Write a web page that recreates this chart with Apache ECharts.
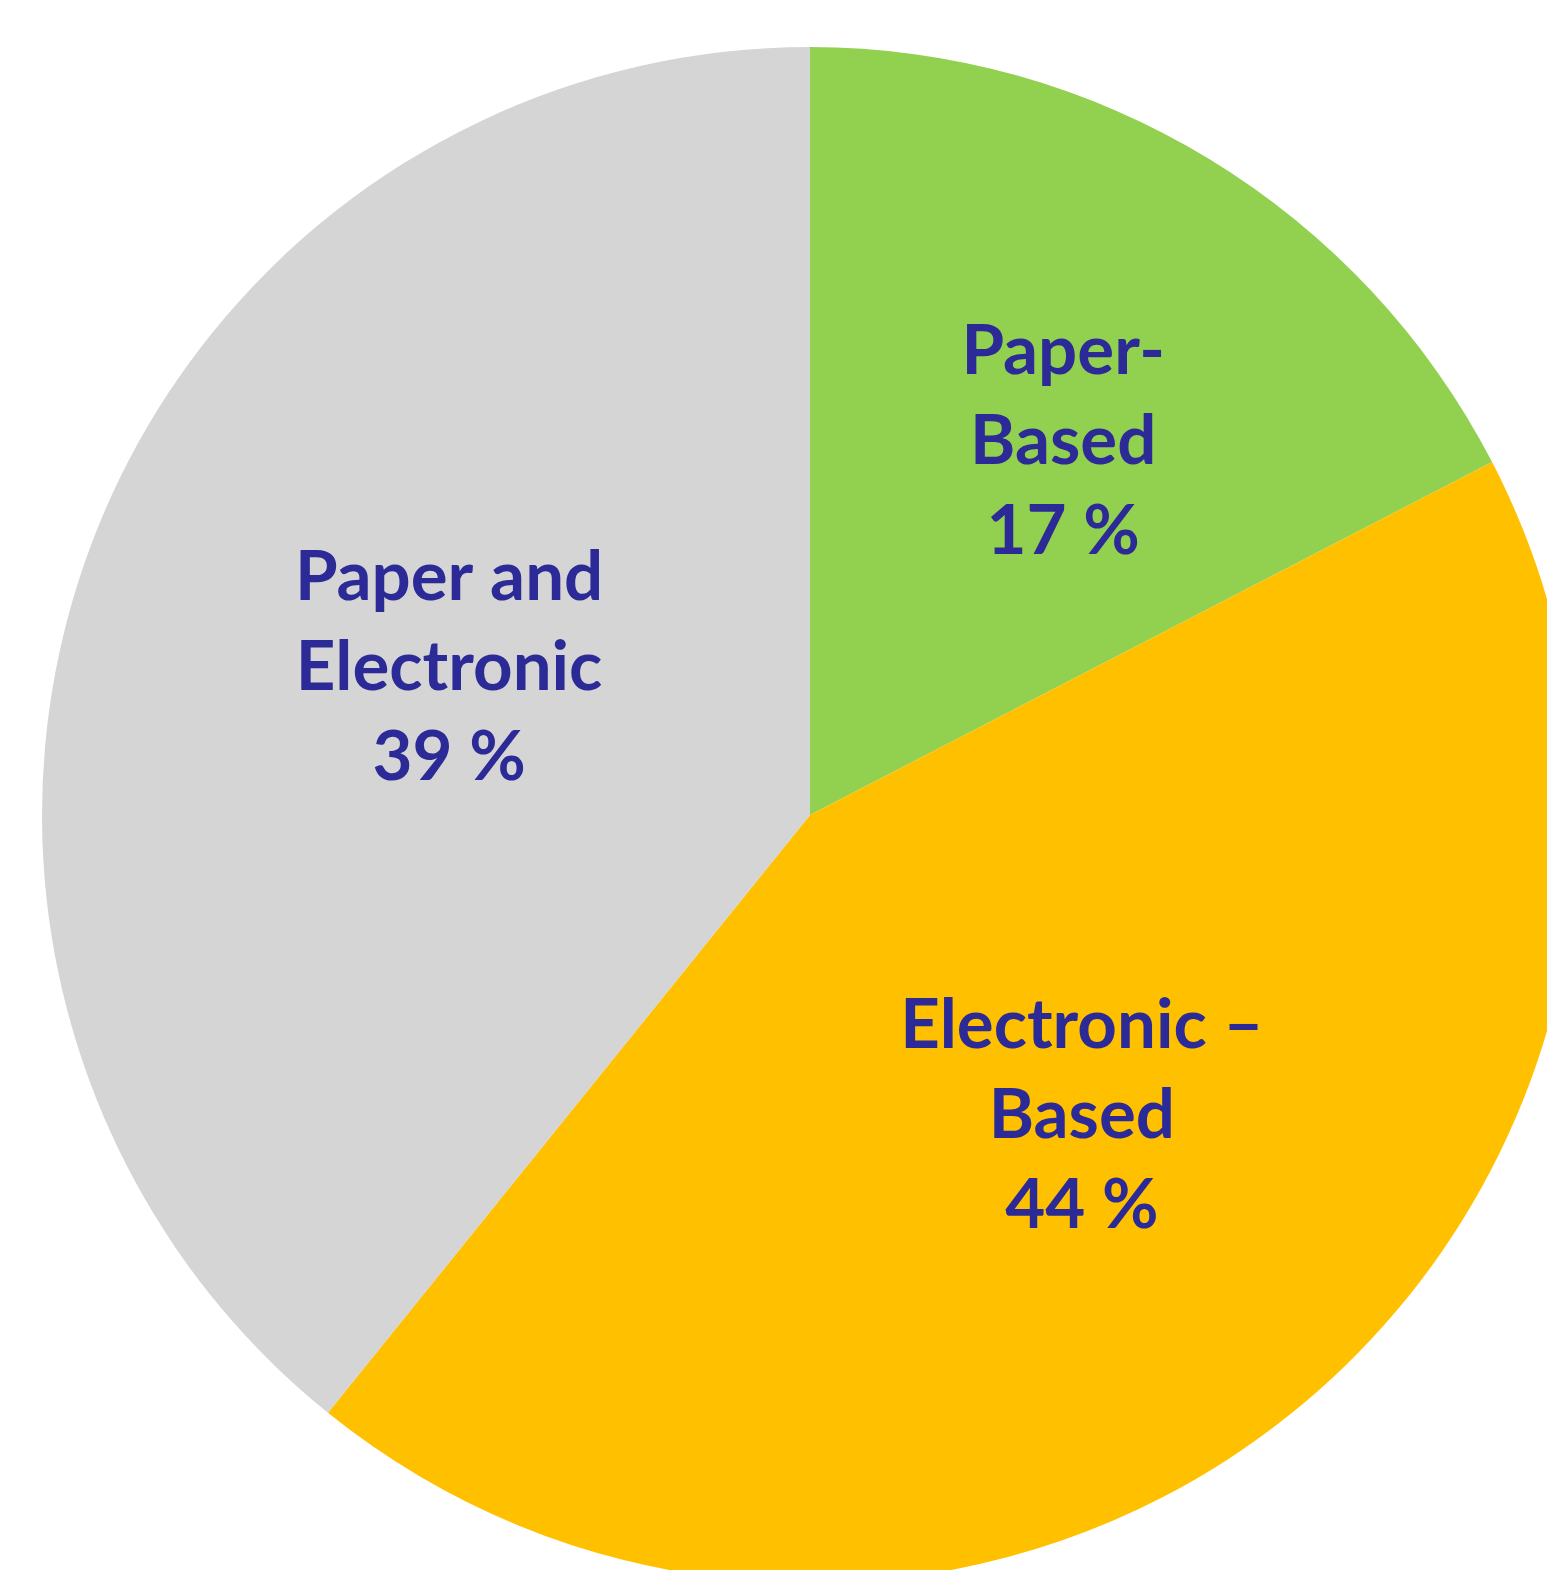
<!DOCTYPE html>
<html>
<head>
<meta charset="utf-8">
<script src="https://cdn.jsdelivr.net/npm/echarts@6/dist/echarts.min.js"></script>
<style>
  html, body { margin: 0; padding: 0; background: #ffffff; }
  #chart { width: 1547px; height: 1570px; }
</style>
</head>
<body>
<div id="chart"></div>
<script>
// slice names (line breaks as in the picture)
const categories = ['Paper-\nBased', 'Electronic –\nBased', 'Paper and\nElectronic'];
const values = [17.4, 43.4, 39.2];
const percentLabels = ['17 %', '44 %', '39 %'];

const colors = ['#92D050', '#FFC000', '#D5D5D5'];
// nudges so the labels sit where the original put them
const labelOffsets = [[52, -43], [27, 1], [4, -18]];

const chart = echarts.init(document.getElementById('chart'));

const option = {
  backgroundColor: '#ffffff',
  animation: false,
  series: [
    {
      type: 'pie',
      center: [810, 815],
      radius: [0, 768],
      startAngle: 90,
      clockwise: true,
      avoidLabelOverlap: false,
      emphasis: { disabled: true },
      labelLine: { show: false },
      label: {
        show: true,
        position: 'inside',
        color: '#2B2A96',
        fontFamily: 'Lato',
        fontWeight: 'bold',
        fontSize: 69,
        lineHeight: 90,
        align: 'center',
        formatter: p => categories[p.dataIndex] + '\n' + percentLabels[p.dataIndex]
      },
      data: categories.map((name, i) => ({
        name: name,
        value: values[i],
        itemStyle: { color: colors[i], borderWidth: 0 },
        label: { offset: labelOffsets[i] }
      }))
    }
  ]
};

chart.setOption(option);
</script>
</body>
</html>
